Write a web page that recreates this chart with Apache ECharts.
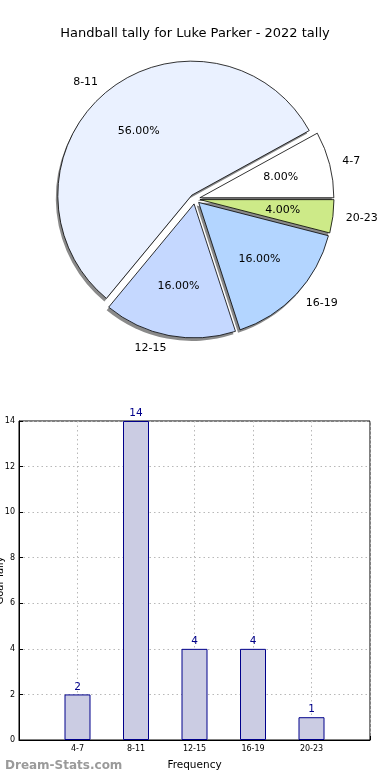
<!DOCTYPE html>
<html>
<head>
<meta charset="utf-8">
<script src="https://cdn.jsdelivr.net/npm/echarts@6/dist/echarts.min.js"></script>
<style>html,body{margin:0;padding:0;background:#fff}#c{width:390px;height:780px}</style>
</head>
<body>
<div id="c"></div>
<script>
const titleText = 'Handball tally for Luke Parker - 2022 tally';
const categories = ['4-7', '8-11', '12-15', '16-19', '20-23'];
const counts = [2, 14, 4, 4, 1];
const pieColors = ['#ffffff', '#eaf1ff', '#c5d8ff', '#b3d5ff', '#cdea88'];
const yTicks = [0, 2, 4, 6, 8, 10, 12, 14];
const xName = 'Frequency';
const yName = 'Goal Tally';
const watermark = 'Dream-Stats.com';

const font = 'DejaVu Sans';
const chart = echarts.init(document.getElementById('c'), null, {renderer: 'canvas'});

const pieData = categories.map((c, i) => ({
  name: c, value: counts[i], selected: true,
  itemStyle: {color: pieColors[i]}
}));
const pieShadowData = categories.map((c, i) => ({
  name: c, value: counts[i], selected: true
}));
const pieLabelData = categories.map((c, i) => ({
  name: c, value: counts[i], selected: true
}));

const barCats = [''].concat(categories, ['']);
const barVals = [null].concat(counts, [null]);

const pieCenter = [195, 199];
const pieR = 134;

chart.setOption({
  animation: false,
  textStyle: {fontFamily: font},
  title: [
    {text: titleText, left: 'center', top: 22,
     textStyle: {fontFamily: font, fontSize: 13, fontWeight: 'normal', color: '#000'}},
    {text: watermark, left: 0, bottom: 3,
     textStyle: {fontFamily: font, fontSize: 12, fontWeight: 'bold', color: '#9a9a9a'}}
  ],
  grid: {left: 19, right: 20, top: 421, bottom: 40, show: true, borderColor: '#000', borderWidth: 1,
    backgroundColor: 'transparent', containLabel: false, outerBoundsMode: 'none'},
  xAxis: {
    type: 'category', data: barCats, boundaryGap: false,
    name: xName, nameLocation: 'middle', nameGap: 20,
    nameTextStyle: {fontSize: 10.5, color: '#000'},
    axisLine: {show: true, lineStyle: {color: '#000'}},
    axisTick: {show: true, inside: true, length: 4, lineStyle: {color: '#000'}},
    axisLabel: {fontSize: 8, color: '#000', interval: 0, margin: 5},
    splitLine: {show: true, lineStyle: {color: '#b8b8b8', type: [1.5, 3], width: 1}}
  },
  yAxis: {
    type: 'value', min: 0, max: 14, interval: 2,
    name: yName, nameLocation: 'middle', nameGap: 14, nameRotate: 90, nameMoveOverlap: false,
    nameTextStyle: {fontSize: 10, color: '#000'},
    axisLine: {show: true, lineStyle: {color: '#000'}},
    axisTick: {show: true, inside: true, length: 4, lineStyle: {color: '#000'}},
    axisLabel: {fontSize: 8, color: '#000', margin: 4},
    splitLine: {show: true, lineStyle: {color: '#b8b8b8', type: [1.5, 3], width: 1}}
  },
  series: [
    {
      type: 'bar', data: barVals, barWidth: 26,
      itemStyle: {color: '#cbcce3', borderColor: '#00008b', borderWidth: 1},
      label: {show: true, position: 'top', distance: 2, fontSize: 10.5, color: '#00008b',
        formatter: p => p.value == null ? '' : String(p.value)},
      emphasis: {disabled: true}
    },
    {
      type: 'pie', center: [pieCenter[0] - 2, pieCenter[1] + 3], radius: [0, pieR],
      startAngle: 0, clockwise: false,
      selectedMode: 'multiple', selectedOffset: 5,
      avoidLabelOverlap: false, silent: true,
      data: pieShadowData,
      itemStyle: {color: '#8a8a8a', borderWidth: 0},
      label: {show: false}, labelLine: {show: false},
      emphasis: {disabled: true},
      select: {itemStyle: {color: '#8a8a8a', borderWidth: 0}}
    },
    {
      type: 'pie', center: pieCenter, radius: [0, pieR],
      startAngle: 0, clockwise: false,
      selectedMode: 'multiple', selectedOffset: 5,
      avoidLabelOverlap: false,
      data: pieData,
      itemStyle: {borderColor: '#000', borderWidth: 0.8},
      label: {show: true, position: 'outside', fontSize: 11, color: '#000',
        distanceToLabelLine: 0, formatter: '{b}'},
      labelLine: {show: false, length: 13, length2: 0},
      emphasis: {disabled: true},
      select: {itemStyle: {borderColor: '#000', borderWidth: 0.8}}
    },
    {
      type: 'pie', center: pieCenter, radius: [0, pieR * 1.2],
      startAngle: 0, clockwise: false,
      selectedMode: 'multiple', selectedOffset: 5,
      avoidLabelOverlap: false, silent: true,
      data: pieLabelData,
      itemStyle: {color: 'rgba(0,0,0,0)', borderWidth: 0},
      label: {show: true, position: 'inside', fontSize: 11, color: '#000',
        formatter: p => p.percent.toFixed(2) + '%'},
      labelLine: {show: false},
      emphasis: {disabled: true},
      select: {itemStyle: {color: 'rgba(0,0,0,0)', borderWidth: 0}}
    }
  ]
});
</script>
</body>
</html>
